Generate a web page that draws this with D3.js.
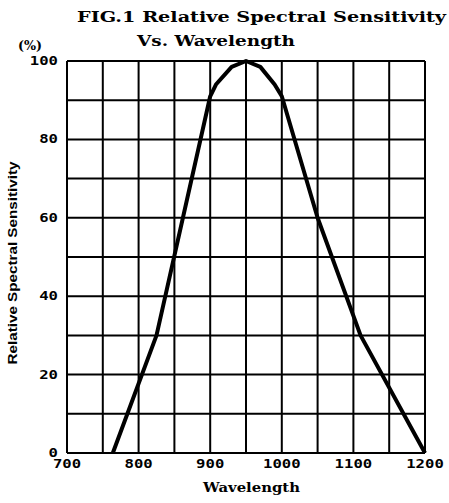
<!DOCTYPE html>
<html>
<head>
<meta charset="utf-8">
<script src="https://cdn.jsdelivr.net/npm/d3@7"></script>
<style>
  body { margin: 0; background: #fff; }
</style>
</head>
<body>
<div id="chart"></div>
<script>
// data
var wavelength = [764, 825, 900, 908, 930, 950, 970, 990, 1000, 1050, 1110, 1200];
var sensitivity = [0, 30, 91, 94, 98.5, 100, 98.5, 94, 91, 60, 30, 0];
var xTicks = [700, 800, 900, 1000, 1100, 1200];
var yTicks = [0, 20, 40, 60, 80, 100];

var W = 449, H = 503;
var svg = d3.select("#chart").append("svg")
    .attr("width", W)
    .attr("height", H)

var x = d3.scaleLinear().domain([700, 1200]).range([67, 425]);
var y = d3.scaleLinear().domain([0, 100]).range([453, 61]);

// grid
svg.selectAll("vgrid")
    .data(d3.range(700, 1201, 50))
    .enter()
    .append("line")
    .attr("x1", function(d){ return x(d)})
    .attr("x2", function(d){ return x(d)})
    .attr("y1", y(0))
    .attr("y2", y(100))
    .style("stroke", "#000")
    .style("stroke-width", 2)

svg.selectAll("hgrid")
    .data(d3.range(0, 101, 10))
    .enter()
    .append("line")
    .attr("x1", x(700))
    .attr("x2", x(1200))
    .attr("y1", function(d){ return y(d)})
    .attr("y2", function(d){ return y(d)})
    .style("stroke", "#000")
    .style("stroke-width", 2)

// tick labels
var mono = "DejaVu Sans Mono";
svg.selectAll("xlab")
    .data(xTicks)
    .enter()
    .append("text")
    .attr("x", function(d){ return x(d) - String(d).length * 4.7})
    .attr("y", 468)
    .attr("textLength", function(d){ return String(d).length * 9.4})
    .attr("lengthAdjust", "spacingAndGlyphs")
    .style("font-family", mono)
    .style("font-weight", "bold")
    .style("font-size", "12px")
    .text(function(d){ return d})

svg.selectAll("ylab")
    .data(yTicks)
    .enter()
    .append("text")
    .attr("x", function(d){ return 58 - String(d).length * 9.4})
    .attr("y", function(d){ return y(d) + 4})
    .attr("textLength", function(d){ return String(d).length * 9.4})
    .attr("lengthAdjust", "spacingAndGlyphs")
    .style("font-family", mono)
    .style("font-weight", "bold")
    .style("font-size", "12px")
    .text(function(d){ return d})

// curve
var line = d3.line()
    .x(function(d){ return x(d[0])})
    .y(function(d){ return y(d[1])})

svg.append("path")
    .datum(d3.zip(wavelength, sensitivity))
    .attr("d", line)
    .style("fill", "none")
    .style("stroke", "#000")
    .style("stroke-width", 4)
    .style("stroke-linejoin", "round")

// titles
var serif = "DejaVu Serif";
svg.append("text")
    .attr("x", 77).attr("y", 22)
    .attr("textLength", 369).attr("lengthAdjust", "spacingAndGlyphs")
    .style("font-family", serif).style("font-weight", "bold").style("font-size", "15px")
    .text("FIG.1 Relative Spectral Sensitivity")

svg.append("text")
    .attr("x", 137).attr("y", 46)
    .attr("textLength", 158).attr("lengthAdjust", "spacingAndGlyphs")
    .style("font-family", serif).style("font-weight", "bold").style("font-size", "14px")
    .text("Vs. Wavelength")

svg.append("text")
    .attr("x", 18).attr("y", 50)
    .attr("textLength", 24).attr("lengthAdjust", "spacingAndGlyphs")
    .style("font-family", serif).style("font-weight", "bold").style("font-size", "13px")
    .text("(%)")

svg.append("text")
    .attr("x", 203).attr("y", 492)
    .attr("textLength", 97).attr("lengthAdjust", "spacingAndGlyphs")
    .style("font-family", serif).style("font-weight", "bold").style("font-size", "13px")
    .text("Wavelength")

svg.append("text")
    .attr("transform", "translate(17,263) rotate(-90)")
    .attr("text-anchor", "middle")
    .attr("textLength", 203).attr("lengthAdjust", "spacingAndGlyphs")
    .style("font-family", "Liberation Sans Narrow, Liberation Sans")
    .style("font-weight", "bold").style("font-size", "12px")
    .text("Relative Spectral Sensitivity")
</script>
</body>
</html>
